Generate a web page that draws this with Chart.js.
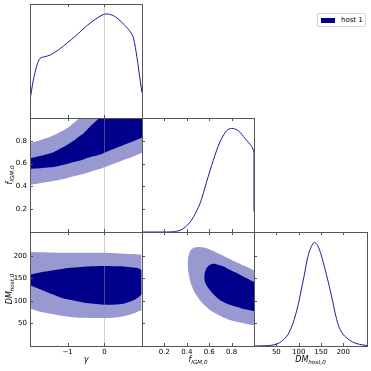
<!DOCTYPE html>
<html>
<head>
<meta charset="utf-8">
<script src="https://cdn.jsdelivr.net/npm/chart.js@4.4.0/dist/chart.umd.min.js"></script>
<style>
  html, body { margin: 0; padding: 0; background: #fff; }
  #wrap { position: relative; width: 371px; height: 371px; overflow: hidden; }
  #wrap canvas { position: absolute; left: 0; top: 0; }
  #legend { position: absolute; left: 317px; top: 13px; width: 47px; height: 12px;
    border: 1px solid #d6d6d6; border-radius: 2px; background: #fff;
    font: 7px "DejaVu Sans", sans-serif; color: #000; }
  #legend i { position: absolute; left: 3px; top: 3.5px; width: 14px; height: 5px; background: #00008b; }
  #legend span { position: absolute; left: 23px; top: 1px; line-height: 10px; white-space: nowrap; }
</style>
</head>
<body>
<div id="wrap">
  <div id="legend"><i></i><span id="legtext"></span></div>
</div>
<script>
// ---- data ----
const seriesLabels = ['host 1'];

const gammaRange = [-2.02, 1.02];
const figmRange = [0, 1];
const dmRange = [0, 253];

const gammaTicks = [-1, 0];
const figmTicks = [0.2, 0.4, 0.6, 0.8];
const dmTicks = [50, 100, 150, 200];
const truthGamma = [0];

// 1D marginals (normalised height)
const gammaGrid = [-2.02, -1.93, -1.83, -1.745, -1.61, -1.47, -1.25, -1.02, -0.75, -0.48, -0.2, 0.02, 0.25, 0.475, 0.7, 0.79, 0.88, 0.97, 1.02];
const gammaDensity = [0.156, 0.332, 0.465, 0.524, 0.538, 0.553, 0.597, 0.656, 0.729, 0.809, 0.876, 0.912, 0.897, 0.838, 0.759, 0.70, 0.538, 0.332, 0.22];

const figmGrid = [0.0, 0.2, 0.26, 0.30, 0.34, 0.384, 0.443, 0.518, 0.577, 0.637, 0.696, 0.756, 0.801, 0.86, 0.92, 0.979, 1.0, 1.0];
const figmDensity = [0, 0, 0.001, 0.005, 0.015, 0.041, 0.105, 0.25, 0.44, 0.63, 0.79, 0.889, 0.909, 0.889, 0.82, 0.75, 0.696, 0.18];

const dmGrid = [0, 27.7, 50, 64.8, 75.9, 87, 98.2, 105.7, 113, 120.4, 128, 135.4, 142.7, 150.3, 160, 168.8, 176.2, 183.7, 191, 202.2, 220.7, 235.6, 253];
const dmDensity = [0, 0.003, 0.015, 0.05, 0.1, 0.196, 0.35, 0.49, 0.63, 0.78, 0.87, 0.909, 0.88, 0.80, 0.66, 0.52, 0.39, 0.255, 0.16, 0.09, 0.035, 0.015, 0.004];

// 2D: gamma vs f_IGM,0 (68% inner, 95% outer)
const gfGamma = [-2.02, -1.75, -1.47, -1.25, -1.02, -0.84, -0.66, -0.57, -0.4, -0.2, -0.11, 0.0, 0.25, 0.52, 0.8, 1.02];
const gfOuterHi = [0.778, 0.805, 0.836, 0.868, 0.909, 0.955, 1, 1, 1, 1, 1, 1, 1, 1, 1, 1];
const gfOuterLo = [0.412, 0.427, 0.442, 0.456, 0.471, 0.488, 0.503, 0.509, 0.527, 0.545, 0.555, 0.567, 0.598, 0.632, 0.665, 0.696];
const gfInnerHi = [0.646, 0.666, 0.69, 0.722, 0.763, 0.80, 0.845, 0.865, 0.92, 0.982, 1, 1, 1, 1, 1, 1];
const gfInnerLo = [0.553, 0.559, 0.567, 0.58, 0.596, 0.613, 0.628, 0.637, 0.655, 0.67, 0.68, 0.696, 0.728, 0.763, 0.798, 0.83];

// 2D: gamma vs DM_host,0
const gdGamma = [-2.02, -1.75, -1.47, -1.11, -0.84, -0.57, -0.3, 0.0, 0.3, 0.52, 0.79, 0.93, 1.01];
const gdOuterHi = [208.6, 208, 207.5, 207, 207, 207, 207, 207, 206, 205, 204, 203, 202.5];
const gdOuterLo = [83, 76, 71.6, 66.5, 64, 62.5, 62, 62, 63.5, 66, 72, 77, 80];
const gdInnerHi = [158, 163, 167, 171.6, 174, 176, 177, 177.5, 177, 176.5, 174, 172, 168];
const gdInnerLo = [134.6, 125.8, 116.5, 105.5, 101, 96.5, 93.5, 91.7, 92, 94, 101.3, 108.7, 115];

// 2D: f_IGM,0 vs DM_host,0
const fdOuterF = [0.407, 0.413, 0.425, 0.442, 0.47, 0.516, 0.59, 0.65, 0.708, 0.77, 0.826, 0.89, 0.944, 1.0];
const fdOuterHi = [182.7, 197.5, 207, 214.5, 218.5, 219.7, 216, 209, 202.7, 195, 188, 180.5, 175, 168];
const fdOuterLo = [182.7, 166, 150, 134.6, 118.5, 102, 83, 73, 65.5, 59, 55, 51.5, 48.5, 45.9];
const fdInnerF = [0.555, 0.56, 0.575, 0.60, 0.634, 0.68, 0.723, 0.77, 0.826, 0.89, 0.944, 1.0];
const fdInnerHi = [153, 162, 172, 179, 182.7, 180.5, 176.8, 171, 164, 156, 149.4, 142];
const fdInnerLo = [153, 144, 135, 126, 116, 105, 98, 92.5, 88, 83.5, 80.5, 77.7];

// ---- layout & style ----
const DARK = '#00008b';
const LIGHT = 'rgb(153,153,209)';
const LINE = '#1a1a9c';
const AXIS = '#555';
const FONT = '"DejaVu Sans", sans-serif';
const colLeft = [30, 142, 254], colW = [112, 112, 113];
const rowTop = [4, 118, 232], rowH = [114, 114, 114];

const minus = v => (v < 0 ? '\u2212' + Math.abs(v) : String(v));
const params = {
  gamma: { range: gammaRange, ticks: gammaTicks, fmt: minus, main: 'γ', sub: '' },
  figm: { range: figmRange, ticks: figmTicks, fmt: v => v.toFixed(1), main: 'f', sub: 'IGM,0' },
  dm: { range: dmRange, ticks: dmTicks, fmt: v => String(v), main: 'DM', sub: 'host,0' }
};

const pts = (xs, ys) => xs.map((x, i) => ({ x: x, y: ys[i] }));
function band(x, innerHi, innerLo, outerHi, outerLo, ix) {
  const xi = ix || x;
  const clear = 'rgba(0,0,0,0)';
  return [
    { data: pts(xi, innerHi), fill: '+1', backgroundColor: DARK, borderColor: clear, borderWidth: 0 },
    { data: pts(xi, innerLo), fill: false, borderColor: clear, borderWidth: 0 },
    { data: pts(x, outerHi), fill: '+1', backgroundColor: LIGHT, borderColor: clear, borderWidth: 0 },
    { data: pts(x, outerLo), fill: false, borderColor: clear, borderWidth: 0 }
  ];
}
function curve(x, y) {
  return [{ data: pts(x, y), fill: false, borderColor: LINE, borderWidth: 1 }];
}

const panels = [
  { r: 0, c: 0, x: 'gamma', y: null, ds: curve(gammaGrid, gammaDensity) },
  { r: 1, c: 0, x: 'gamma', y: 'figm', ds: band(gfGamma, gfInnerHi, gfInnerLo, gfOuterHi, gfOuterLo) },
  { r: 1, c: 1, x: 'figm', y: null, yRow: 'figm', ds: curve(figmGrid, figmDensity) },
  { r: 2, c: 0, x: 'gamma', y: 'dm', ds: band(gdGamma, gdInnerHi, gdInnerLo, gdOuterHi, gdOuterLo) },
  { r: 2, c: 1, x: 'figm', y: 'dm', ds: band(fdOuterF, fdInnerHi, fdInnerLo, fdOuterHi, fdOuterLo, fdInnerF) },
  { r: 2, c: 2, x: 'dm', y: null, yRow: 'dm', ds: curve(dmGrid, dmDensity) }
];

function drawTitle(ctx, cx, base, p, rotate) {
  const mainFont = 'italic 8px ' + FONT, subFont = 'italic 5.6px ' + FONT;
  ctx.font = mainFont;
  const wm = ctx.measureText(p.main).width;
  ctx.font = subFont;
  const ws = p.sub ? ctx.measureText(p.sub).width : 0;
  ctx.save();
  ctx.fillStyle = '#000';
  ctx.textBaseline = 'alphabetic';
  ctx.textAlign = 'left';
  if (rotate) { ctx.translate(base, cx); ctx.rotate(-Math.PI / 2); } else { ctx.translate(cx, base); }
  const x0 = -(wm + ws) / 2;
  ctx.font = mainFont; ctx.fillText(p.main, x0, 0);
  if (p.sub) { ctx.font = subFont; ctx.fillText(p.sub, x0 + wm, 2); }
  ctx.restore();
}

function deco(pn) {
  return {
    id: 'deco',
    afterDatasetsDraw(chart) {
      if (pn.x !== 'gamma') return;
      const { ctx, chartArea: a } = chart;
      ctx.save();
      ctx.strokeStyle = 'rgba(150,150,150,0.45)';
      ctx.lineWidth = 1;
      truthGamma.forEach(v => {
        const x = Math.round(chart.scales.x.getPixelForValue(v)) + 0.5;
        ctx.beginPath(); ctx.moveTo(x, a.top); ctx.lineTo(x, a.bottom); ctx.stroke();
      });
      ctx.restore();
    },
    afterDraw(chart) {
      const { ctx, chartArea: a } = chart;
      const L = 3;
      ctx.save();
      ctx.strokeStyle = AXIS;
      ctx.lineWidth = 1;
      ctx.beginPath();
      params[pn.x].ticks.forEach(v => {
        const x = Math.round(chart.scales.x.getPixelForValue(v)) + 0.5;
        ctx.moveTo(x, a.bottom); ctx.lineTo(x, a.bottom - L);
        ctx.moveTo(x, a.top); ctx.lineTo(x, a.top + L);
      });
      const yk = pn.y || pn.yRow;
      if (yk) {
        const sc = pn.y ? chart.scales.y : chart.scales.yr;
        params[yk].ticks.forEach(v => {
          const y = Math.round(sc.getPixelForValue(v)) + 0.5;
          ctx.moveTo(a.left, y); ctx.lineTo(a.left + L, y);
        });
      }
      ctx.stroke();
      ctx.strokeRect(a.left + 0.5, a.top + 0.5, a.right - a.left, a.bottom - a.top);
      ctx.restore();
      if (pn.r === 2) drawTitle(ctx, (a.left + a.right) / 2, 361.5, params[pn.x], false);
      if (pn.c === 0 && pn.y) drawTitle(ctx, (a.top + a.bottom) / 2, 11.5, params[pn.y], true);
    }
  };
}

// size: fixed thickness of the axis box (labels are clipped to it)
function axis(key, pos, showLabels, pad, size) {
  const p = params[key];
  return {
    type: 'linear', position: pos, min: p.range[0], max: p.range[1],
    grid: { display: false, drawTicks: false },
    border: { display: false },
    ticks: {
      display: showLabels, autoSkip: false, maxRotation: 0, minRotation: 0,
      padding: pad, color: '#000', font: { family: FONT, size: 7 },
      callback: v => p.fmt(v)
    },
    afterBuildTicks: s => { s.ticks = p.ticks.map(v => ({ value: v })); },
    afterFit: s => { if (pos === 'left') s.width = size; else s.height = size; }
  };
}

const wrap = document.getElementById('wrap');
document.getElementById('legtext').textContent = seriesLabels[0];

panels.forEach(pn => {
  const cv = document.createElement('canvas');
  cv.width = 371; cv.height = 371;
  cv.style.width = '371px'; cv.style.height = '371px';
  wrap.insertBefore(cv, wrap.firstChild);

  const pad = {
    left: colLeft[pn.c], top: rowTop[pn.r],
    right: 371 - colLeft[pn.c] - colW[pn.c], bottom: 371 - rowTop[pn.r] - rowH[pn.r]
  };
  const xLab = pn.r === 2;
  const yLab = pn.c === 0 && !!pn.y;
  const scales = { x: axis(pn.x, 'bottom', xLab, 2, xLab ? pad.bottom : 0) };
  if (xLab) pad.bottom = 0;
  if (pn.y) {
    scales.y = axis(pn.y, 'left', yLab, 3, yLab ? pad.left : 0);
    if (yLab) pad.left = 0;
  } else {
    scales.y = { type: 'linear', min: 0, max: 1, display: false };
    if (pn.yRow) scales.yr = { type: 'linear', position: 'left', display: false, min: params[pn.yRow].range[0], max: params[pn.yRow].range[1] };
  }
  new Chart(cv, {
    type: 'line',
    data: { datasets: pn.ds },
    options: {
      responsive: false, animation: false, devicePixelRatio: 1,
      layout: { padding: pad },
      elements: { point: { radius: 0 }, line: { tension: 0.3 } },
      plugins: { legend: { display: false }, tooltip: { enabled: false } },
      scales: scales
    },
    plugins: [deco(pn)]
  });
});
</script>
</body>
</html>
